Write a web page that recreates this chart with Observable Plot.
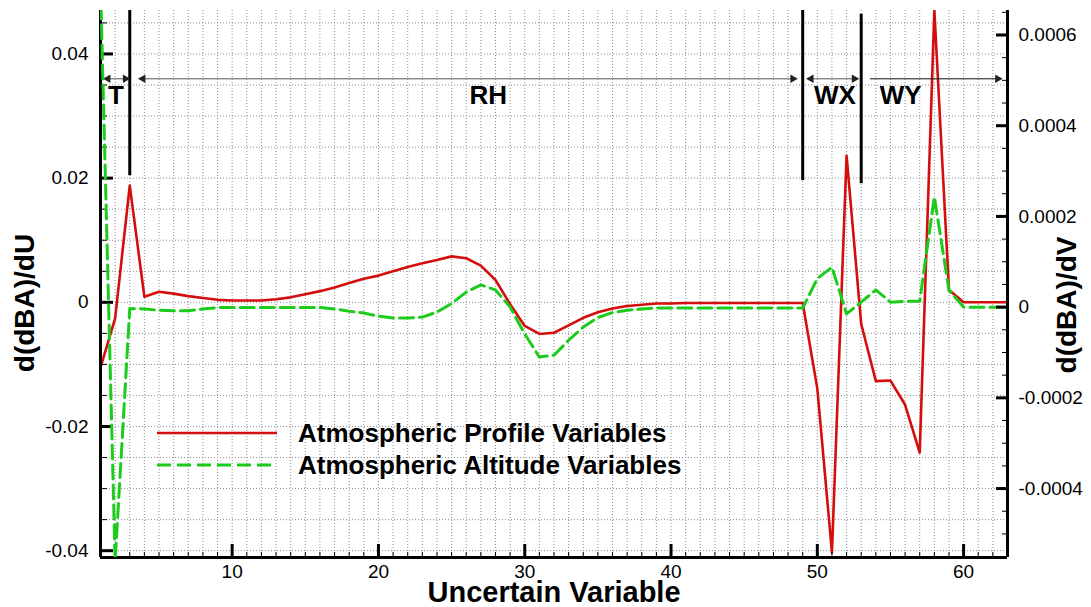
<!DOCTYPE html>
<html>
<head>
<meta charset="utf-8">
<script src="https://cdn.jsdelivr.net/npm/d3@7"></script>
<script src="https://cdn.jsdelivr.net/npm/@observablehq/plot@0.6"></script>
<style>
  body { margin: 0; background: #fff; }
  #wrap { position: relative; width: 1091px; height: 607px; font-family: "Liberation Sans", Arial, sans-serif; }
  #wrap > svg, #wrap > div { position: absolute; left: 0; top: 0; }
</style>
</head>
<body>
<div id="wrap"></div>
<script>
// ---------------- data ----------------
const variables = [1,2,3,4,5,6,7,8,9,10,11,12,13,14,15,16,17,18,19,20,21,22,23,24,25,26,27,28,29,30,31,32,33,34,35,36,37,38,39,40,41,42,43,44,45,46,47,48,49,50,51,52,53,54,55,56,57,58,59,60,61,62,63];

// d(dBA)/dU  (left axis)
const profileValues = [
  -0.0105, -0.0026, 0.0188, 0.0009, 0.0017, 0.0014, 0.0010, 0.0007, 0.0004, 0.0003,
   0.0003,  0.0003, 0.0005, 0.0008, 0.0013, 0.0018, 0.0024, 0.0031, 0.0038, 0.0043,
   0.0050,  0.0057, 0.0063, 0.0068, 0.0074, 0.0071, 0.0059, 0.0036, -0.0003, -0.0038,
  -0.0051, -0.0049, -0.0037, -0.0025, -0.0016, -0.0010, -0.0006, -0.0004, -0.0002, -0.0002,
  -0.0001, -0.0001, -0.0001, -0.0001, -0.0001, -0.0001, -0.0001, -0.0001, -0.0001, -0.0139,
  -0.0403,  0.0236, -0.0035, -0.0127, -0.0126, -0.0165, -0.0242, 0.0470, 0.0020, 0.0000,
   0.0000,  0.0000, 0.0000
];

// d(dBA)/dV  (right axis)
const altitudeValues = [
   0.00071, -0.00056, -0.000003, -0.000004, -0.000007, -0.000008, -0.000008, -0.000004, -0.000001, -0.000001,
  -0.000001, -0.000001, -0.000001, -0.000001, -0.000001, -0.000001, -0.000004, -0.000009, -0.000013, -0.000020,
  -0.000024, -0.000024, -0.000022, -0.000011,  0.000008,  0.000033,  0.000049,  0.000038,  0.000000, -0.000059,
  -0.000110, -0.000106, -0.000073, -0.000044, -0.000023, -0.000012, -0.000007, -0.000004, -0.000002, -0.000002,
  -0.000002, -0.000002, -0.000002, -0.000002, -0.000002, -0.000002, -0.000002, -0.000002, -0.000002,  0.000063,
   0.000088, -0.000015,  0.000011,  0.000038,  0.000011,  0.000013,  0.000013,  0.000243,  0.000037,  0.000000,
   0.000000,  0.000000,  0.000000
];

const seriesNames = ["Atmospheric Profile Variables", "Atmospheric Altitude Variables"];

// tick labels
const xTicks = [10, 20, 30, 40, 50, 60];
const xTickLabels = ["10", "20", "30", "40", "50", "60"];
const leftTicks = [-0.04, -0.02, 0, 0.02, 0.04];
const leftTickLabels = ["-0.04", "-0.02", "0", "0.02", "0.04"];
const rightTicks = [-0.0004, -0.0002, 0, 0.0002, 0.0004, 0.0006];
const rightTickLabels = ["-0.0004", "-0.0002", "0", "0.0002", "0.0004", "0.0006"];

// variable groups (annotations)
const groupNames = ["T", "RH", "WX", "WY"];
const groupLabelX = [2.05, 27.5, 51.2, 55.7];
const groupArrowStart = [1.34, 3.73, 49.4, 53.6];
const groupArrowEnd = [2.87, 48.5, 52.7, 62.5];
const groupArrowBoth = [true, true, true, false];
const groupArrowColor = ["#555", "#555", "#555", "#111"];
const separatorX = [3, 49, 53];
const separatorBottom = [0.0204, 0.0196, 0.0191];
const separatorTop = [0.047, 0.047, 0.0464];
const arrowLevel = 0.036;
const labelLevel = 0.0333;

// ---------------- layout ----------------
const W = 1091, H = 607;
const mL = 100, mR = 84, mT = 10, mB = 50;
const xDomain = [1, 63];
const yLeftDomain = [-0.0411, 0.047];
const yRightDomain = [-0.000552, 0.000654];
const RED = "#d40d0d", GREEN = "#1ccc1c";
const FONT = "'Liberation Sans', Arial, Helvetica, sans-serif";

const minorX = d3.range(2, 63);
const minorYLeft = d3.range(-0.04, 0.0451, 0.005);
const minorYRight = d3.range(-0.0005, 0.00066, 0.00005);

const rows = variables.map((v, i) => ({v, profile: profileValues[i], altitude: altitudeValues[i]}));
const groups = groupNames.map((name, i) => ({name, lx: groupLabelX[i], a0: groupArrowStart[i], a1: groupArrowEnd[i], both: groupArrowBoth[i], color: groupArrowColor[i]}));
const seps = separatorX.map((x, i) => ({x, y1: separatorBottom[i], y2: separatorTop[i]}));

const common = {
  width: W, height: H, marginLeft: mL, marginRight: mR, marginTop: mT, marginBottom: mB,
  style: {fontFamily: FONT, fontSize: "19px", background: "transparent", color: "black"}
};
const gridStyle = {stroke: "#8f8f8f", strokeOpacity: 1, strokeWidth: 1, strokeDasharray: "1,2"};

const plotLeft = Plot.plot({
  ...common,
  x: {domain: xDomain},
  y: {domain: yLeftDomain},
  marks: [
    Plot.ruleX(minorX, gridStyle),
    Plot.ruleY(minorYLeft, gridStyle),
    Plot.line(rows, {x: "v", y: "profile", stroke: RED, strokeWidth: 2.6, clip: true}),
    Plot.ruleX(seps, {x: "x", y1: "y1", y2: "y2", stroke: "black", strokeWidth: 3}),
    Plot.link(groups, {x1: "a0", x2: "a1", y1: arrowLevel, y2: arrowLevel, stroke: d => d.color, strokeWidth: 1}),
    Plot.dot(groups, {x: "a1", y: arrowLevel, symbol: "triangle", rotate: 90, r: 3.2, fill: "#222", stroke: null, dx: -2.5}),
    Plot.dot(groups.filter(d => d.both), {x: "a0", y: arrowLevel, symbol: "triangle", rotate: -90, r: 3.2, fill: "#222", stroke: null, dx: 2.5}),
    Plot.text(groups, {x: "lx", y: labelLevel, text: "name", fontSize: 26, fontWeight: "bold", fill: "black"}),
    // axes: labels
    Plot.axisY({anchor: "left", ticks: leftTicks, tickFormat: d => leftTickLabels[leftTicks.indexOf(d)], tickSize: 0, tickPadding: 12, label: null, fontSize: 19}),
    Plot.axisX({anchor: "bottom", ticks: xTicks, tickFormat: d => xTickLabels[xTicks.indexOf(d)], tickSize: 0, tickPadding: 7, label: null, fontSize: 19}),
    // axes: inward ticks
    Plot.axisY({anchor: "left", ticks: minorYLeft, tickSize: 7, dx: 7, fill: "none", strokeWidth: 1, label: null}),
    Plot.axisY({anchor: "left", ticks: leftTicks, tickSize: 13, dx: 13, fill: "none", strokeWidth: 3, label: null}),
    Plot.axisX({anchor: "bottom", ticks: minorX, tickSize: 5, dy: -5, fill: "none", strokeWidth: 1, label: null}),
    Plot.axisX({anchor: "bottom", ticks: xTicks, tickSize: 13, dy: -13, fill: "none", strokeWidth: 3, label: null}),
    // frame (no top edge)
    Plot.ruleX(xDomain, {stroke: "black", strokeWidth: 3}),
    Plot.ruleY([yLeftDomain[0]], {stroke: "black", strokeWidth: 3}),
    // titles
    Plot.text(["d(dBA)/dU"], {text: d => d, frameAnchor: "left", dx: -75, dy: 19, rotate: -90, textAnchor: "middle", lineAnchor: "middle", fontSize: 28, fontWeight: "bold", fill: "black"}),
    Plot.text(["Uncertain Variable"], {text: d => d, frameAnchor: "bottom", dy: 35, textAnchor: "middle", lineAnchor: "middle", fontSize: 29, fontWeight: "bold", fill: "black"})
  ]
});

const plotRight = Plot.plot({
  ...common,
  x: {domain: xDomain, axis: null},
  y: {domain: yRightDomain},
  marks: [
    Plot.line(rows, {x: "v", y: "altitude", stroke: GREEN, strokeWidth: 3, strokeDasharray: "14,6", clip: true}),
    Plot.axisY({anchor: "right", ticks: rightTicks, tickFormat: d => rightTickLabels[rightTicks.indexOf(d)], tickSize: 0, tickPadding: 11, label: null, fontSize: 19}),
    Plot.axisY({anchor: "right", ticks: minorYRight, tickSize: 6, dx: -6, fill: "none", strokeWidth: 1, label: null}),
    Plot.axisY({anchor: "right", ticks: rightTicks, tickSize: 12, dx: -12, fill: "none", strokeWidth: 3, label: null}),
    Plot.text(["d(dBA)/dV"], {text: d => d, frameAnchor: "right", dx: 60, dy: 21, rotate: -90, textAnchor: "middle", lineAnchor: "middle", fontSize: 28, fontWeight: "bold", fill: "black"})
  ]
});

const wrap = document.getElementById("wrap");
wrap.appendChild(plotLeft);
wrap.appendChild(plotRight);

// legend (inside the frame)
const legend = d3.create("div").style("left", "150px").style("top", "410px");
const lsvg = legend.append("svg").attr("width", 560).attr("height", 72);
const legendItems = [
  {name: seriesNames[0], color: RED, dash: null, width: 2.6, y: 23},
  {name: seriesNames[1], color: GREEN, dash: "14,6", width: 3, y: 55}
];
for (const it of legendItems) {
  lsvg.append("line").attr("x1", 7).attr("x2", 127).attr("y1", it.y).attr("y2", it.y)
    .attr("stroke", it.color).attr("stroke-width", it.width).attr("stroke-dasharray", it.dash);
  lsvg.append("text").attr("x", 148).attr("y", it.y).attr("dy", "0.35em")
    .attr("font-family", FONT).attr("font-size", 26).attr("font-weight", "bold").text(it.name);
}
wrap.appendChild(legend.node());
</script>
</body>
</html>
